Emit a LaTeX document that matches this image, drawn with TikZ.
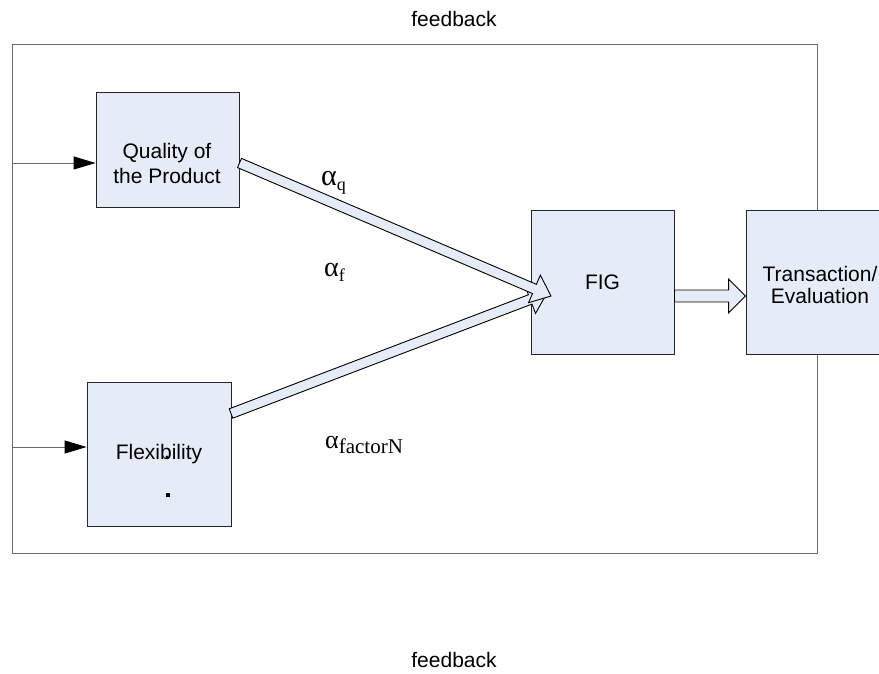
\documentclass[tikz,border=0pt]{standalone}
\usepackage{fontspec}
\setmainfont{Liberation Sans}
\newfontfamily\seriffam{Liberation Serif}
\usetikzlibrary{calc,arrows.meta}
\definecolor{boxfill}{HTML}{E6ECF7}
\definecolor{framegray}{HTML}{6A6A6A}
% block arrow: tail, tip, shaft half width, head half width, head length
\newcommand\blkarr[5]{%
  \coordinate (hb) at ($(#2)!#5!(#1)$);
  \filldraw[blockarrow]
    ($(#1)!#3!90:(#2)$) -- ($(hb)!#3!90:(#2)$) -- ($(hb)!#4!90:(#2)$) --
    (#2) --
    ($(hb)!#4!-90:(#2)$) -- ($(hb)!#3!-90:(#2)$) -- ($(#1)!#3!-90:(#2)$) -- cycle;
}
\begin{document}
\begin{tikzpicture}[x=1pt,y=-1pt,
  box/.style={draw=black!85, fill=boxfill, line width=0.9pt, inner sep=0pt,
    minimum width=143pt, minimum height=144pt, align=center,
    font=\fontsize{21}{25}\selectfont},
  txt/.style={font=\fontsize{21}{25}\selectfont, align=center, inner sep=0pt},
  blockarrow/.style={draw=black, fill=boxfill, line width=0.9pt, line join=miter},
  frameline/.style={draw=framegray, line width=0.9pt},
  inarrow/.style={draw=framegray, line width=0.9pt,
    -{Triangle[length=22pt,width=13pt,fill=black,color=black]}},
  alpha/.style={font=\seriffam, inner sep=0pt, anchor=base west}]
\useasboundingbox (0,0) rectangle (879,673);
\clip (0,0) rectangle (879,673);
\fill[white] (0,0) rectangle (879,673);

% labels
\node[txt] (fbtop) at (454,19) {feedback};
\node[txt] (fbbot) at (454,660) {feedback};

% outer feedback frame
\coordinate (fTL) at (12,44);
\coordinate (fBR) at (817,553);
\draw[frameline] (fTL) rectangle (fBR);

% boxes
\node[box, minimum height=115pt] (quality) at (167.5,149.5) {};
\node[txt] (qtext) at (167,163) {Quality of\\the Product};
\node[box, minimum width=144pt] (flex) at (159,454) {Flexibility};
\node[box] (fig) at (602.5,282) {FIG};
\node[box, minimum width=150pt] (trans) at (821,282) {};
\node[txt, font=\fontsize{21}{22}\selectfont] (ttext) at (820,285) {Transaction/\\Evaluation};

% dots inside Flexibility
\fill[black] (167,457) circle (1.6pt);
\fill[black] (166,493) rectangle (170,497);

% input arrows from the left feedback line
\coordinate (lq) at (12,163);
\coordinate (lf) at (12,447);
\draw[inarrow] (lq) -- (lq -| quality.west);
\draw[inarrow] (lf) -- (lf -| flex.west);

% block arrows
\coordinate (ftail) at (231,413.5);
\coordinate (ftip) at (547,293);
\blkarr{ftail}{ftip}{5pt}{15pt}{18pt}
\coordinate (qtail) at (239.5,163);
\coordinate (qtip) at (551,296);
\blkarr{qtail}{qtip}{5pt}{15pt}{18pt}
\coordinate (gtail) at (fig.east |- 0,296);
\coordinate (gtip) at (trans.west |- 0,296);
\blkarr{gtail}{gtip}{6pt}{17pt}{17pt}

% weights
\node[alpha] (aq) at (321,185) {\fontsize{30}{30}\selectfont α\raisebox{-5pt}{\fontsize{18}{18}\selectfont q}};
\node[alpha] (af) at (324,276) {\fontsize{28}{28}\selectfont α\raisebox{-5pt}{\fontsize{18}{18}\selectfont f}};
\node[alpha] (an) at (325,448) {\fontsize{26}{26}\selectfont α\raisebox{-5pt}{\fontsize{21}{21}\selectfont factorN}};
\end{tikzpicture}
\end{document}
